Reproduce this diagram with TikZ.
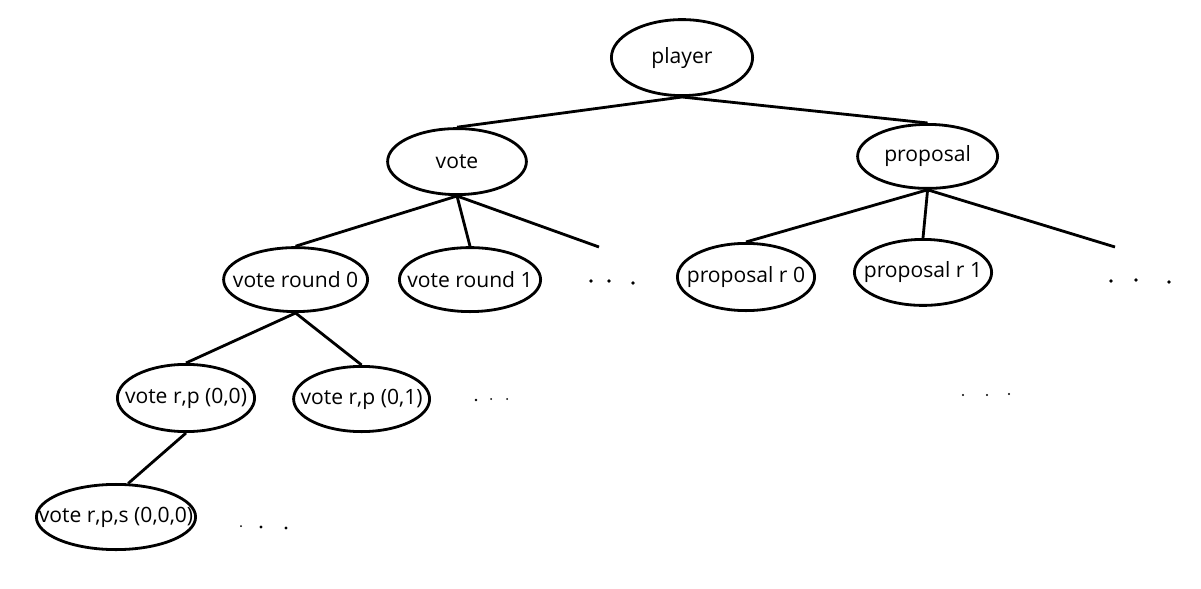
\documentclass[tikz,border=0pt]{standalone}
\usepackage{fontspec}
\setmainfont{Open Sans}
\usepackage{tikz}
\usetikzlibrary{shapes.geometric, positioning}

\begin{document}
\begin{tikzpicture}[
  twig/.style={draw, ellipse, line width=2pt, inner sep=0pt, minimum width=3.5cm, minimum height=1.65cm},
  tag/.style={font=\fontsize{15}{18}\selectfont},
  limb/.style={line width=2pt},
  dot/.style={fill=black}
]
  \useasboundingbox (0,0) rectangle (30.025,-14.725);

  % top two levels
  \node[twig, minimum width=3.53cm, minimum height=1.9cm, label={[tag]center:player}] (player) at (17.05,-1.44) {};
  \node[twig, minimum width=3.47cm, label={[tag]center:vote}] (vote) at (11.425,-4.04) {};
  \node[twig, minimum width=3.5cm, minimum height=1.6cm, label={[tag]center:proposal}] (proposal) at (23.19,-3.91) {};

  % rounds
  \node[twig, minimum width=3.6cm, minimum height=1.6cm, label={[tag]center:vote round 0}] (vround0) at (7.39,-6.99) {};
  \node[twig, minimum width=3.53cm, minimum height=1.6cm, label={[tag]center:vote round 1}] (vround1) at (11.75,-6.99) {};
  \node[twig, minimum width=3.43cm, minimum height=1.68cm, label={[tag]center:proposal r 0}] (propr0) at (18.65,-6.925) {};
  \node[twig, minimum width=3.43cm, label={[tag]center:proposal r 1}] (propr1) at (23.075,-6.81) {};

  % deeper
  \node[twig, minimum width=3.43cm, minimum height=1.68cm, label={[tag]center:vote r,p (0,0)}] (vrp00) at (4.65,-9.95) {};
  \node[twig, minimum width=3.4cm, minimum height=1.63cm, label={[tag]center:vote r,p (0,1)}] (vrp01) at (9.04,-9.975) {};
  \node[twig, minimum width=3.98cm, minimum height=1.63cm, label={[tag]center:vote r,p,s (0,0,0)}] (vrps000) at (2.9,-12.925) {};

  \coordinate (votemore) at (14.975,-6.175);
  \coordinate (propmore) at (27.875,-6.175);

  \draw[limb] (player.south) -- (vote.north);
  \draw[limb] (player.south) -- (proposal.north);
  \draw[limb] (vote.south) -- (vround0.north);
  \draw[limb] (vote.south) -- (vround1.north);
  \draw[limb] (vote.south) -- (votemore);
  \draw[limb] (proposal.south) -- (propr0.north);
  \draw[limb] (proposal.south) -- (propr1.north);
  \draw[limb] (proposal.south) -- (propmore);
  \draw[limb] (vround0.south) -- (vrp00.north);
  \draw[limb] (vround0.south) -- (vrp01.north);
  \draw[limb] (vrp00.south) -- (vrps000.70);

  % the little dots
  \foreach \x/\y/\r in {14.775/-7.025/0.045, 15.225/-7.025/0.045, 15.825/-7.075/0.045,
                        27.775/-7.025/0.045, 28.4/-7.0/0.045, 29.225/-7.05/0.045,
                        11.9/-10.0/0.035, 12.275/-9.975/0.025, 12.675/-9.975/0.025,
                        6.025/-13.15/0.025, 6.525/-13.175/0.04, 7.15/-13.2/0.04,
                        24.075/-9.875/0.03, 24.675/-9.875/0.03, 25.225/-9.85/0.03}
    \fill[dot] (\x,\y) circle (\r);
\end{tikzpicture}
\end{document}
